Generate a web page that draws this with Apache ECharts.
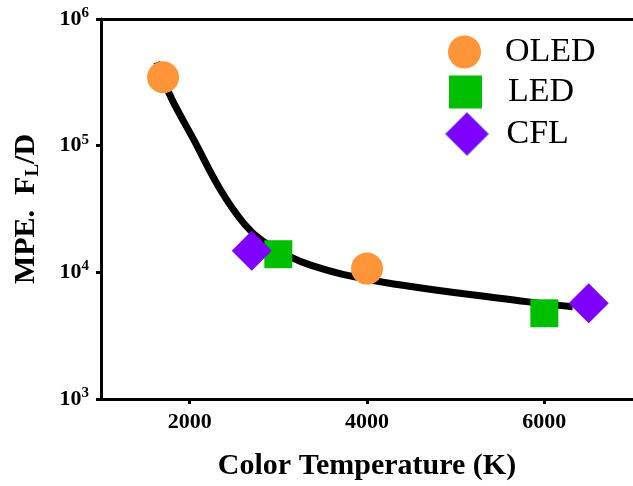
<!DOCTYPE html>
<html>
<head>
<meta charset="utf-8">
<script src="https://cdn.jsdelivr.net/npm/echarts@6/dist/echarts.min.js"></script>
<style>
    html, body { margin: 0; padding: 0; background: #fff; }
    #chart { width: 633px; height: 486px; }
</style>
</head>
<body>
<div id="chart"></div>
<script>
// 数据
const oledTemp = [1700, 4000];
const oledMpe = [347000, 10700];
const ledTemp = [3000, 6000];
const ledMpe = [13900, 4750];
const cflTemp = [2700, 6500];
const cflMpe = [14800, 5700];
// 拟合曲线
const fitTemp = [1630, 1700, 1800, 2050, 2350, 2620, 2820, 3140, 3365, 3740, 4300, 5800, 6320];
const fitMpe = [455000, 340000, 232000, 110000, 44500, 23900, 17700, 13200, 11400, 9600, 8100, 5870, 5350];
const xTicks = [2000, 4000, 6000];

const serif = '"Liberation Serif", "Times New Roman", serif';
const orange = '#FF9438';
const green = '#00BF00';
const purple = '#7F00FF';

const pairs = (xs, ys) => xs.map((x, i) => [x, ys[i]]);

// 图例
function makeLegend(item, left, top, size, gap) {
    return {
        data: [item],
        left: left,
        top: top,
        padding: 0,
        orient: 'vertical',
        itemWidth: size,
        itemHeight: size,
        selectedMode: false,
        formatter: n => '{g|}{n|' + n + '}',
        textStyle: {
            rich: {
                g: { width: gap },
                n: { fontSize: 34, fontFamily: serif, color: '#000' }
            }
        }
    };
}

const chart = echarts.init(document.getElementById('chart'));

const option = {
    animation: false,
    backgroundColor: '#fff',
    grid: { left: 101, right: 0, top: 19, bottom: 87 },
    legend: [
        makeLegend('OLED', 448, 35, 33, 19),
        makeLegend('LED', 449, 75, 33, 21),
        makeLegend({ name: 'CFL', itemStyle: { borderColor: '#5a6cff', borderWidth: 1 } }, 445, 112, 43, 13)
    ],
    xAxis: [
        {
            type: 'value',
            min: 1000,
            max: 7000,
            name: 'Color Temperature (K)',
            nameLocation: 'middle',
            nameGap: 52,
            nameTextStyle: { fontSize: 30, fontWeight: 'bold', fontFamily: serif, color: '#000' },
            axisLine: { lineStyle: { color: '#000', width: 3 } },
            axisTick: { length: 5, lineStyle: { color: '#000', width: 3 }, customValues: xTicks },
            axisLabel: {
                fontSize: 22, fontWeight: 'bold', fontFamily: serif, color: '#000', margin: 12,
                customValues: xTicks,
                formatter: v => String(v)
            },
            splitLine: { show: false }
        },
        {
            type: 'value',
            position: 'top',
            min: 1000,
            max: 7000,
            axisLine: { lineStyle: { color: '#000', width: 3 } },
            axisTick: { show: false },
            axisLabel: { show: false },
            splitLine: { show: false }
        }
    ],
    yAxis: {
        type: 'log',
        logBase: 10,
        min: 1000,
        max: 1000000,
        name: '{t|MPE.  F}{sub|L}{t|/D}',
        nameLocation: 'middle',
        nameRotate: 90,
        nameGap: 58,
        nameTextStyle: {
            rich: {
                t: { fontSize: 30, fontWeight: 'bold', fontFamily: serif, color: '#000' },
                sub: { fontSize: 19, fontWeight: 'bold', fontFamily: serif, color: '#000', padding: [14, 0, 0, 0] }
            }
        },
        axisLine: { lineStyle: { color: '#000', width: 3 } },
        axisTick: { length: 5, lineStyle: { color: '#000', width: 3 } },
        axisLabel: {
            margin: 12,
            formatter: v => '{b|10}{s|' + Math.round(Math.log10(v)) + '}',
            rich: {
                b: { fontSize: 22, fontWeight: 'bold', fontFamily: serif, color: '#000' },
                s: { fontSize: 15, fontWeight: 'bold', fontFamily: serif, color: '#000', padding: [0, 0, 12, 0] }
            }
        },
        splitLine: { show: false }
    },
    series: [
        {
            name: 'fit',
            type: 'line',
            data: pairs(fitTemp, fitMpe),
            smooth: 0.4,
            showSymbol: false,
            lineStyle: { color: '#000', width: 7 },
            z: 1
        },
        {
            name: 'OLED',
            type: 'scatter',
            data: pairs(oledTemp, oledMpe),
            symbol: 'circle',
            symbolSize: 32,
            itemStyle: { color: orange, opacity: 1 },
            z: 3
        },
        {
            name: 'LED',
            type: 'scatter',
            data: pairs(ledTemp, ledMpe),
            symbol: 'rect',
            symbolSize: 28,
            itemStyle: { color: green, opacity: 1 },
            z: 3
        },
        {
            name: 'CFL',
            type: 'scatter',
            data: pairs(cflTemp, cflMpe),
            symbol: 'diamond',
            symbolSize: 40,
            itemStyle: { color: purple, opacity: 1 },
            z: 3
        }
    ]
};

chart.setOption(option);
</script>
</body>
</html>
